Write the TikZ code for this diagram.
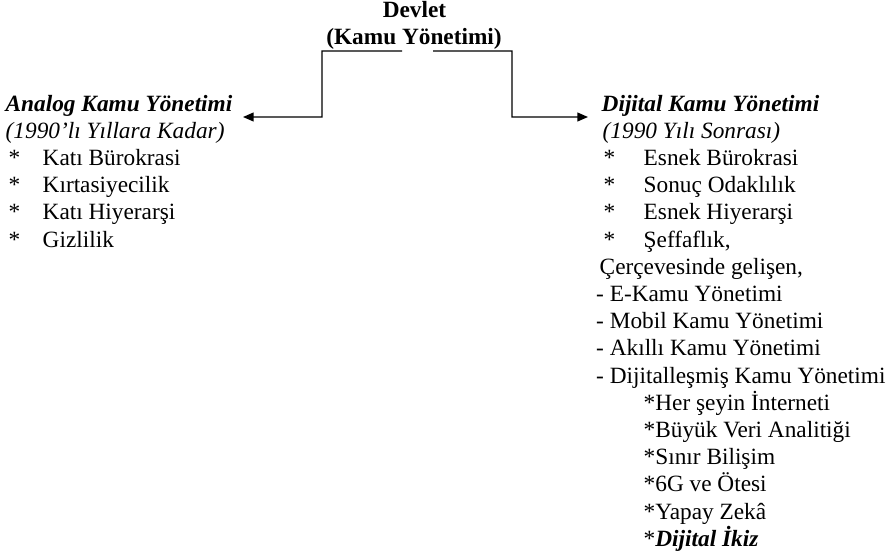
\documentclass[tikz,border=0pt]{standalone}
\usepackage{fontspec}
\setmainfont{Liberation Serif}
\usetikzlibrary{arrows.meta}

\begin{document}
\begin{tikzpicture}[scale=0.2, line width=0.8pt,
  every node/.style={font=\fontsize{13.26}{15.5}\selectfont},
  txt/.style={anchor=base west},
  arr/.style={-{Triangle[length=6pt,width=5pt]}}]
\tikzstyle{every node}+=[inner sep=0pt]
\useasboundingbox (0,0) rectangle (89.5,-55.9);
% header
\node [anchor=base] (devlet) at (41.45,-1.75) {\textbf{Devlet}};
\node [anchor=base] (kamu) at (41.4,-4.45) {\textbf{(Kamu Yönetimi)}};
\coordinate (kl) at (40.2,-5.1);
\coordinate (kr) at (43.3,-5.1);
\coordinate (ltip) at (24.3,-11.7);
\coordinate (rtip) at (58.8,-11.7);
% left block
\node [txt] (l1) at (0.5,-11.1) {\textbf{\textit{Analog Kamu Yönetimi}}};
\node [txt] (l2) at (0.5,-13.82) {\textit{(1990’lı Yıllara Kadar)}};
\foreach \txt [count=\i from 3] in {Katı Bürokrasi, Kırtasiyecilik, Katı Hiyerarşi, Gizlilik} {
  \node [txt] (ls\i) at (0.8,{-11.1-2.72*(\i-1)}) {*};
  \node [txt] (l\i) at (4.2,{-11.1-2.72*(\i-1)}) {\txt};
}
% right block
\node [txt] (r1) at (60.1,-11.1) {\textbf{\textit{Dijital Kamu Yönetimi}}};
\node [txt] (r2) at (60.2,-13.82) {\textit{(1990 Yılı Sonrası)}};
\foreach \txt [count=\i from 3] in {Esnek Bürokrasi, Sonuç Odaklılık, Esnek Hiyerarşi, {Şeffaflık,}} {
  \node [txt] (rs\i) at (60.3,{-11.1-2.72*(\i-1)}) {*};
  \node [txt] (r\i) at (64.3,{-11.1-2.72*(\i-1)}) {\txt};
}
\node [txt] (r7) at (59.9,-27.42) {Çerçevesinde gelişen,};
\foreach \txt [count=\i from 8] in {E-Kamu Yönetimi, Mobil Kamu Yönetimi, Akıllı Kamu Yönetimi, Dijitalleşmiş Kamu Yönetimi}
  \node [txt] (r\i) at (59.55,{-11.1-2.72*(\i-1)}) {- \txt};
\foreach \txt [count=\i from 12] in {Her şeyin İnterneti, Büyük Veri Analitiği, Sınır Bilişim, 6G ve Ötesi, Yapay Zekâ, \textbf{\textit{Dijital İkiz}}}
  \node [txt] (r\i) at (64.3,{-11.1-2.72*(\i-1)}) {*\txt};
% connectors
\draw [black, arr] (kl) -| (32.2,-11.7) -- (ltip);
\draw [black, arr] (kr) -| (51.2,-11.7) -- (rtip);
\end{tikzpicture}
\end{document}
